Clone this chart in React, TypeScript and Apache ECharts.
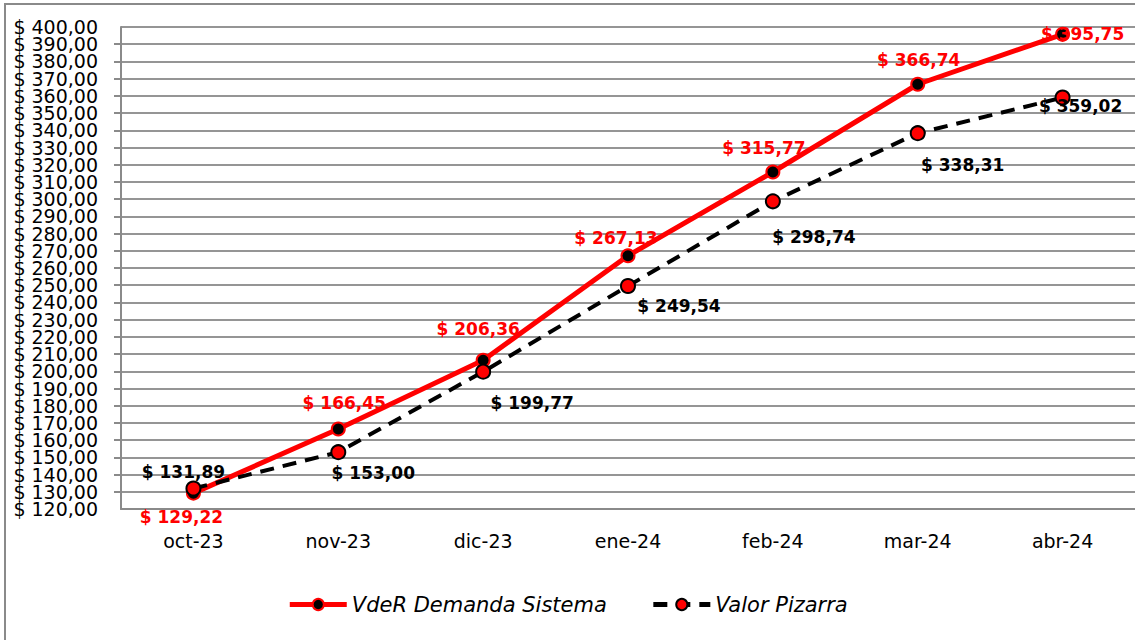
import React, { useEffect, useRef } from "react";
import * as echarts from "echarts";

const categories = ["oct-23", "nov-23", "dic-23", "ene-24", "feb-24", "mar-24", "abr-24"];
const vdeRValues = [129.22, 166.45, 206.36, 267.13, 315.77, 366.74, 395.75];
const pizarraValues = [131.89, 153.0, 199.77, 249.54, 298.74, 338.31, 359.02];
const vdeRName = "VdeR Demanda Sistema";
const pizarraName = "Valor Pizarra";
const yMin = 120;
const yMax = 400;

// label offsets (styling only)
const vdeROffsets = [[-12, 24], [6, -26], [-5, -31], [-12, -18], [-9, -24], [1, -24], [20, 0]];
const pizarraOffsets = [[-10, -17], [35, 21], [49, 31], [51, 20], [41, 36], [45, 32], [18, 8]];

const FONT = "DejaVu Sans";
const fmt = (v: number) => "$ " + v.toFixed(2).replace(".", ",");

export default function App() {
  const ref = useRef<HTMLDivElement>(null);
  useEffect(() => {
    document.body.style.margin = "0";
    document.body.style.overflow = "hidden";
    const chart = echarts.init(ref.current!, null, { renderer: "svg" });
    const mk = (vals: number[], offs: number[][], color: string) =>
      vals.map((v, i) => ({
        value: v,
        label: {
          show: true,
          position: "inside",
          offset: offs[i],
          align: "center",
          verticalAlign: "middle",
          color,
          fontFamily: FONT,
          fontWeight: "bold",
          fontSize: 17,
          formatter: () => fmt(v),
        },
      }));
    const yLabel = {
      color: "#000",
      fontFamily: FONT,
      fontSize: 19,
      margin: 23,
    };
    chart.setOption({
      animation: false,
      backgroundColor: "#ffffff",
      graphic: [
        {
          type: "rect",
          shape: { x: 5, y: 4, width: 1200, height: 700 },
          style: { fill: "none", stroke: "#8a8a8a", lineWidth: 2 },
          silent: true,
          z: -10,
        },
      ],
      grid: { left: 121, top: 27, bottom: 131, right: -7 },
      legend: {
        bottom: 20,
        left: "center",
        itemWidth: 57,
        itemHeight: 14,
        itemGap: 44,
        textStyle: { fontFamily: FONT, fontStyle: "italic", fontSize: 21, color: "#000" },
        data: [
          { name: vdeRName, lineStyle: { width: 5 } },
          { name: pizarraName, lineStyle: { width: 5 } },
        ],
      },
      xAxis: {
        type: "category",
        data: categories,
        boundaryGap: true,
        axisLine: { show: true, lineStyle: { color: "#8a8a8a", width: 2 } },
        axisTick: { show: false },
        axisLabel: { color: "#000", fontFamily: FONT, fontSize: 19, margin: 22 },
      },
      yAxis: [
        {
          type: "value",
          min: yMin,
          max: yMax,
          interval: 10,
          axisLine: { show: true, lineStyle: { color: "#8a8a8a", width: 2 } },
          axisTick: { show: true, length: 7, lineStyle: { color: "#8a8a8a", width: 2 } },
          splitLine: { show: true, lineStyle: { color: "#959595", width: 2 } },
          axisLabel: {
            ...yLabel,
            showMinLabel: false,
            showMaxLabel: false,
            formatter: (v: number) => (v === yMin || v === yMax ? "" : fmt(v)),
          },
        },
        {
          type: "value",
          position: "left",
          min: yMin,
          max: yMax,
          interval: 40,
          axisLine: { show: false },
          axisTick: { show: false },
          splitLine: { show: false },
          axisLabel: {
            ...yLabel,
            showMinLabel: true,
            showMaxLabel: true,
            formatter: (v: number) => (v === yMin || v === yMax ? fmt(v) : ""),
          },
        },
      ],
      series: [
        {
          name: vdeRName,
          type: "line",
          data: mk(vdeRValues, vdeROffsets, "#ff0000"),
          symbol: "circle",
          symbolSize: 13,
          lineStyle: { color: "#ff0000", width: 5 },
          itemStyle: { color: "#000000", borderColor: "#ff0000", borderWidth: 2 },
          z: 2,
        },
        {
          name: pizarraName,
          type: "line",
          data: mk(pizarraValues, pizarraOffsets, "#000000"),
          symbol: "circle",
          symbolSize: 14,
          lineStyle: { color: "#000000", width: 4, type: [14, 9] },
          itemStyle: { color: "#ff0000", borderColor: "#000000", borderWidth: 2 },
          z: 3,
        },
      ],
    });
    return () => chart.dispose();
  }, []);
  return <div ref={ref} style={{ width: 1135, height: 640 }} />;
}
